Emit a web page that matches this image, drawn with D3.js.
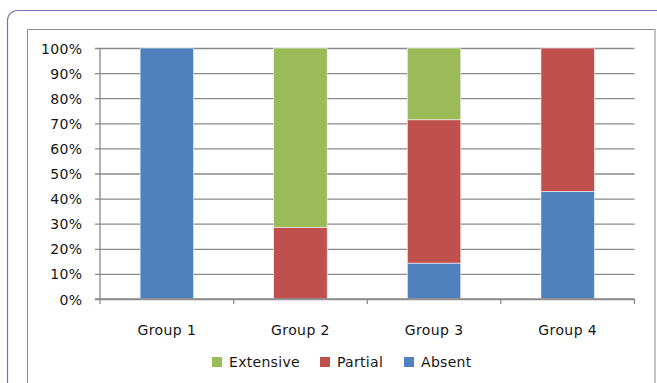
<!DOCTYPE html>
<html>
<head>
<meta charset="utf-8">
<script src="https://cdn.jsdelivr.net/npm/d3@7"></script>
<style>
  html, body { margin: 0; padding: 0; background: #fff; }
  svg { display: block; }
  text { font-family: "DejaVu Sans", Verdana, sans-serif; fill: #161616; }
</style>
</head>
<body>
<svg id="chart" width="657" height="383"></svg>
<script>
// Share of each status per group (percent of the group)
const groups = ["Group 1", "Group 2", "Group 3", "Group 4"];
const absent    = [100, 0, 14.3, 42.9];
const partial   = [0, 28.6, 57.1, 57.1];
const extensive = [0, 71.4, 28.6, 0];
const yTicks = [0, 10, 20, 30, 40, 50, 60, 70, 80, 90, 100];

const seriesNames = ["Absent", "Partial", "Extensive"];
const seriesColors = { Absent: "#4F81BD", Partial: "#C0504D", Extensive: "#9BBB59" };
const legendOrder = ["Extensive", "Partial", "Absent"];

const rows = groups.map((g, i) => ({
  group: g, Absent: absent[i], Partial: partial[i], Extensive: extensive[i]
}));
const stacked = d3.stack().keys(seriesNames)(rows);

const svg = d3.select("#chart");

// Frames: rounded outer panel and the chart-area box
svg.append("rect")
  .attr("x", 7.5).attr("y", 10.5).attr("width", 700).attr("height", 420)
  .attr("rx", 10).attr("ry", 10)
  .attr("fill", "none").attr("stroke", "#7474b8").attr("stroke-width", 1.2);
svg.append("rect")
  .attr("x", 27.5).attr("y", 29.5).attr("width", 627.5).attr("height", 400)
  .attr("fill", "none").attr("stroke", "#8c8c8c").attr("stroke-width", 1);

const plot = { left: 100, right: 634.5, top: 48, bottom: 299 };

const x = d3.scaleBand().domain(groups)
  .range([plot.left, plot.right]).paddingInner(0.6).paddingOuter(0.3);
const xOuter = d3.scaleBand().domain(groups).range([plot.left, plot.right]);
const y = d3.scaleLinear().domain([0, 100]).range([plot.bottom, plot.top]);

// Horizontal gridlines with outside ticks
const yAxis = svg.append("g")
  .attr("transform", `translate(${plot.left},0)`)
  .call(d3.axisLeft(y).tickValues(yTicks)
    .tickSize(-(plot.right - plot.left)).tickSizeOuter(0)
    .tickFormat(d => d + "%").tickPadding(13));
yAxis.select(".domain").remove();
yAxis.selectAll(".tick line")
  .attr("x1", -5)
  .attr("stroke", "#8a8a8a").attr("stroke-width", 1.3);
yAxis.selectAll(".tick text")
  .attr("font-size", 14).attr("x", -17.5).attr("dy", "0.36em")
  .attr("letter-spacing", 0.4);

// Vertical axis line
svg.append("line")
  .attr("x1", plot.left).attr("x2", plot.left)
  .attr("y1", plot.top).attr("y2", plot.bottom)
  .attr("stroke", "#8a8a8a").attr("stroke-width", 1.3);

// Stacked bars (empty segments are skipped)
svg.append("g").selectAll("g")
  .data(stacked).join("g")
  .attr("fill", d => seriesColors[d.key])
  .selectAll("rect")
  .data(d => d.filter(s => s[1] - s[0] > 0)).join("rect")
  .attr("x", d => x(d.data.group))
  .attr("width", x.bandwidth())
  .attr("y", d => y(d[1]))
  .attr("height", d => y(d[0]) - y(d[1]))
  .attr("stroke", "#f4f4f4").attr("stroke-width", 0.6);

// Category axis with ticks at the group boundaries
const xAxisG = svg.append("g");
xAxisG.append("line")
  .attr("x1", plot.left - 5).attr("x2", plot.right)
  .attr("y1", plot.bottom).attr("y2", plot.bottom)
  .attr("stroke", "#8a8a8a").attr("stroke-width", 1.3);
xAxisG.selectAll("line.tk")
  .data(groups.map(g => xOuter(g)).concat([plot.right]))
  .join("line").attr("class", "tk")
  .attr("x1", d => d).attr("x2", d => d)
  .attr("y1", plot.bottom).attr("y2", plot.bottom + 5)
  .attr("stroke", "#8a8a8a").attr("stroke-width", 1.3);
xAxisG.selectAll("text")
  .data(groups).join("text")
  .attr("x", d => xOuter(d) + xOuter.bandwidth() / 2)
  .attr("y", 335)
  .attr("text-anchor", "middle")
  .attr("font-size", 14)
  .attr("letter-spacing", 0.4)
  .text(d => d);

// Legend
const legendX = { Extensive: 212, Partial: 320, Absent: 404 };
const legend = svg.append("g");
legendOrder.forEach(name => {
  legend.append("rect")
    .attr("x", legendX[name]).attr("y", 357)
    .attr("width", 10).attr("height", 10)
    .attr("fill", seriesColors[name]);
  legend.append("text")
    .attr("x", legendX[name] + 17).attr("y", 367)
    .attr("font-size", 14)
    .attr("letter-spacing", 0.3)
    .text(name);
});
</script>
</body>
</html>
